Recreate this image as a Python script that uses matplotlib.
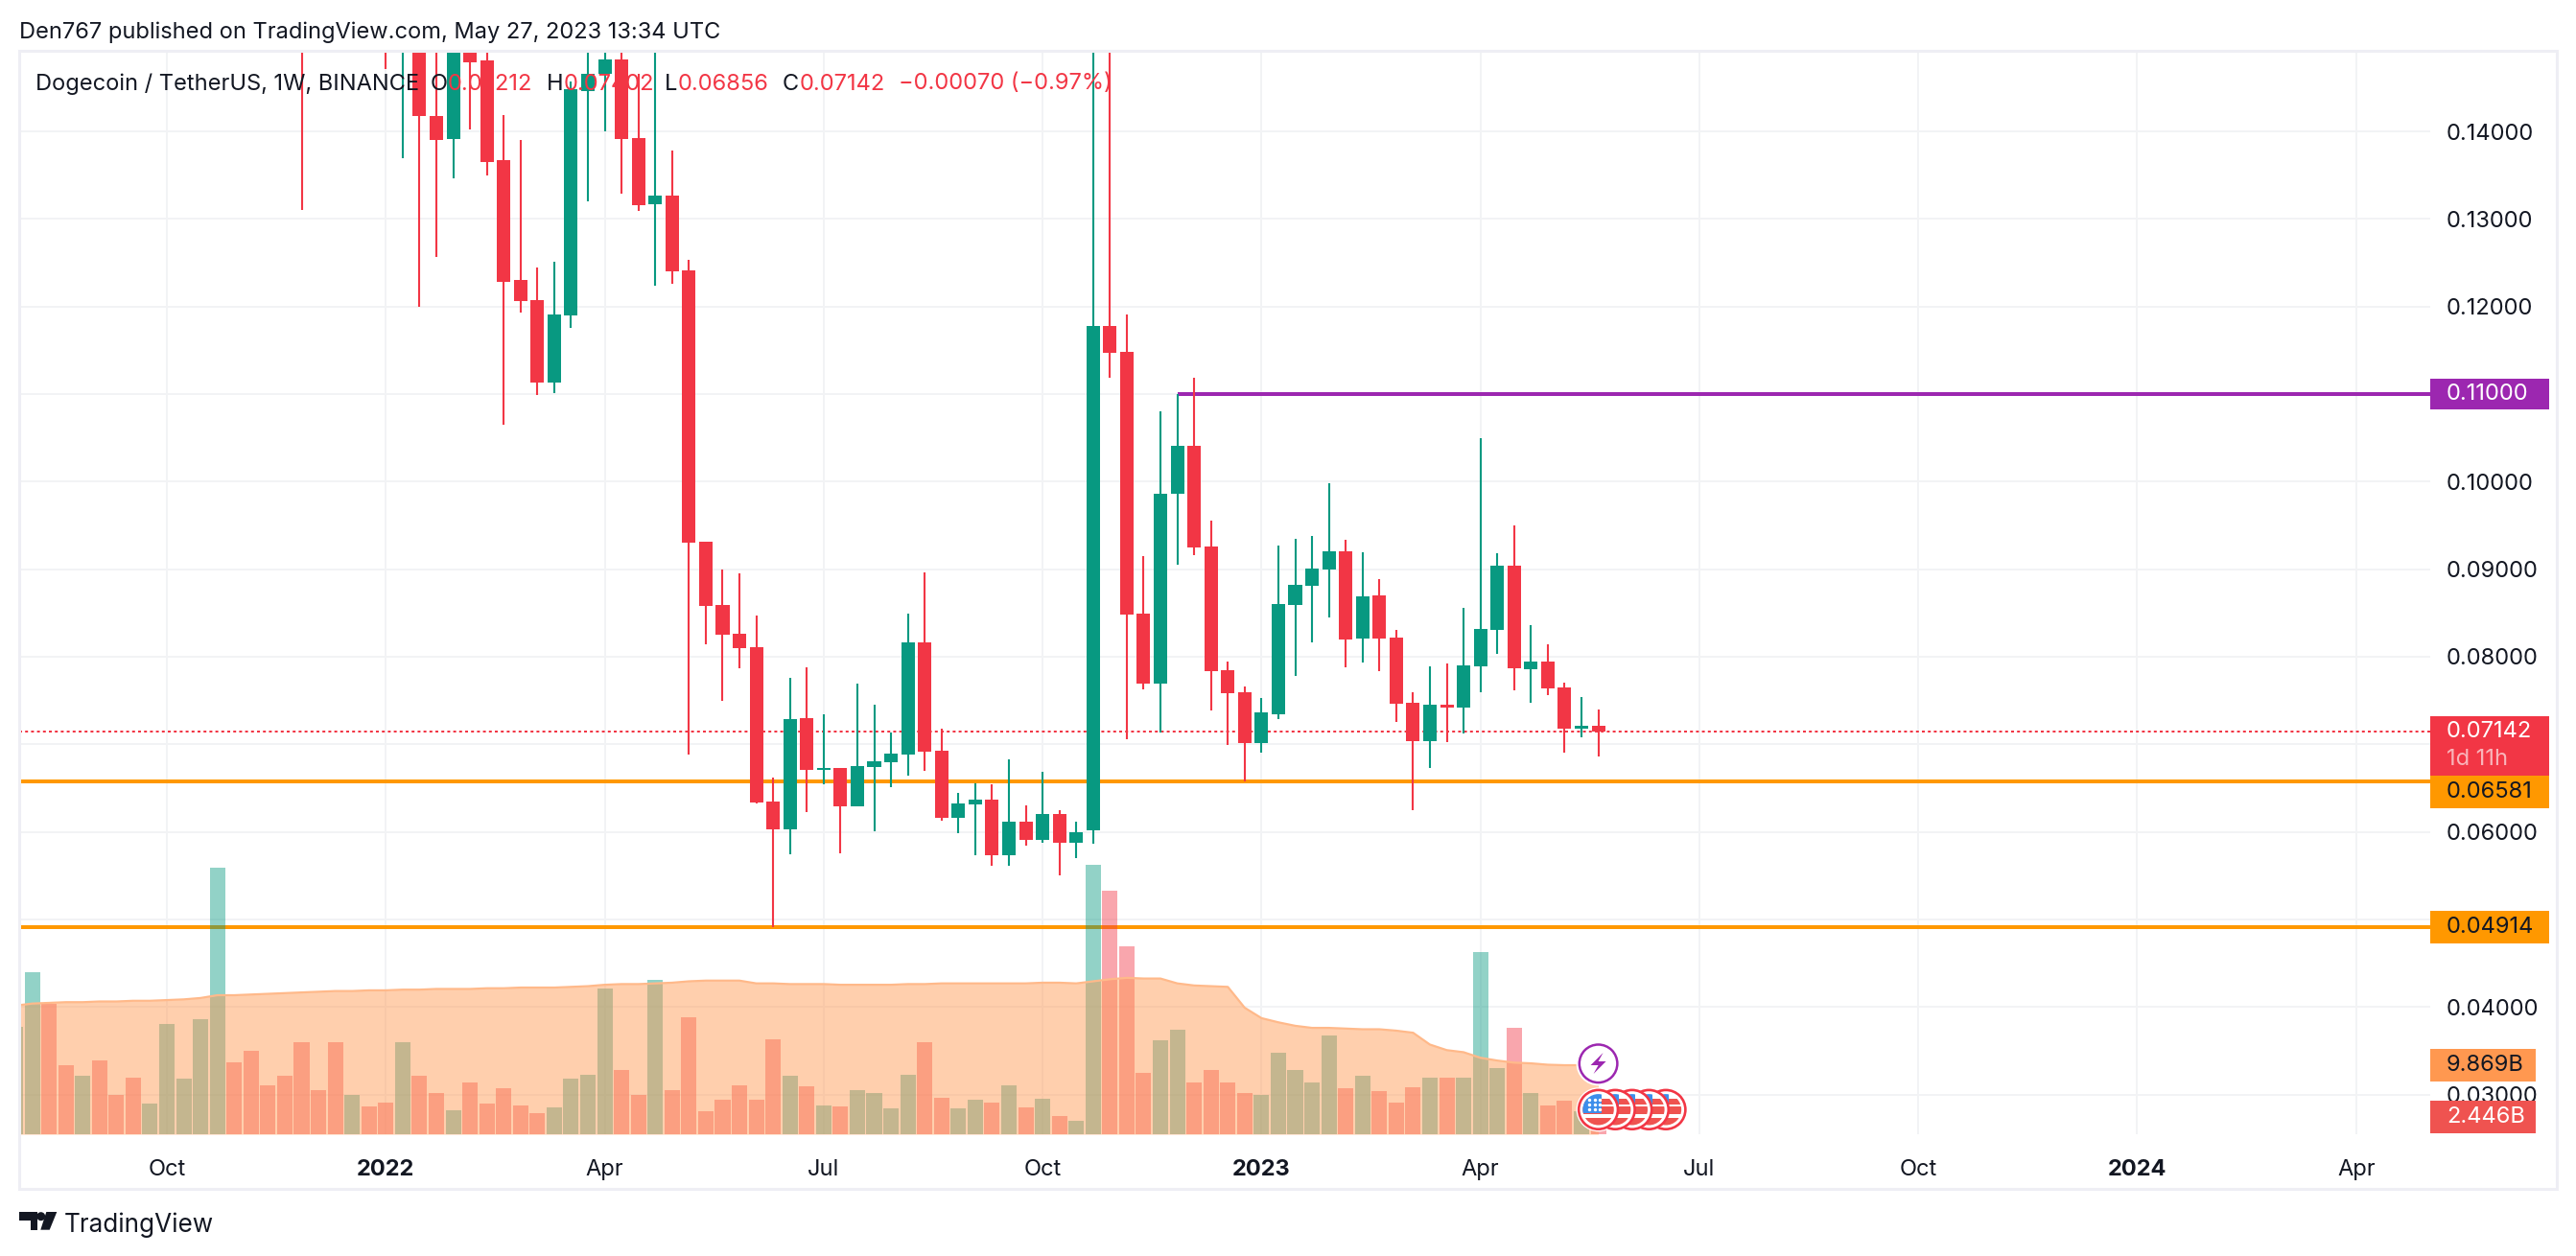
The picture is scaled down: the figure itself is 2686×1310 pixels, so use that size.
import matplotlib
matplotlib.use("Agg")
import matplotlib.pyplot as plt
import matplotlib.dates as mdates
from matplotlib.patches import Rectangle, Circle, Polygon
import numpy as np
import pandas as pd

plt.rcParams['font.family'] = ['Inter', 'DejaVu Sans']

W, H = 2686, 1310
INK = '#131722'; UP = '#089981'; DOWN = '#F23645'; ORANGE = '#FF9800'; PURPLE = '#9C27B0'
GRID = '#f2f3f5'; FRAME = '#eeeef4'

first_week = '2021-08-02'
opens = [.197,.256,.315,.290,.283,.320,.290,.240,.225,.232,
         .245,.250,.261,.290,.265,.245,.216,.206,.175,.172,
         .166,.172,.165,.155,.172,.14175,.13916,.163,.1481,.13672,
         .1230,.12073,.11135,.11901,.1446,.14654,.14821,.13923,.13171,.13266,
         .12412,.09314,.08591,.08262,.08109,.06346,.06032,.07299,.06711,.06729,
         .06295,.06741,.06795,.06886,.08164,.06927,.06164,.06315,.06365,.05737,
         .06114,.05909,.06202,.05879,.06022,.11775,.11482,.0849,.07694,.0986,
         .10409,.09257,.07845,.07593,.07015,.07342,.0859,.08808,.08997,.09202,
         .08209,.08699,.08217,.07472,.07036,.07451,.07417,.07891,.08306,.09039,
         .07857,.07945,.07648,.07178,.07212]
highs = [.27,.35,.33,.31,.33,.335,.30,.25,.24,.25,
         .26,.27,.35,.30,.28,.25,.23,.215,.18,.176,
         .18,.178,.17,.178,.178,.152,.17,.171,.152,.14186,
         .13905,.12445,.12508,.1457,.155,.157,.154,.1466,.152,.13781,
         .12533,.09314,.08996,.08952,.08467,.06617,.07759,.07879,.07343,.06729,
         .07693,.07452,.07131,.08492,.08963,.07178,.06441,.06558,.06541,.06826,
         .06307,.06684,.06248,.06114,.16,.155,.11909,.09148,.10803,.11004,
         .11184,.09554,.07945,.0766,.07526,.09269,.09345,.09378,.09982,.09336,
         .09194,.08888,.08305,.07593,.07891,.07924,.08557,.10497,.09181,.095,
         .0836,.08142,.07702,.07539,.07402]
lows = [.19,.25,.27,.265,.27,.27,.20,.21,.20,.22,
        .23,.24,.24,.25,.23,.20,.19,.1310,.155,.152,
        .16,.155,.1471,.1369,.1200,.12569,.13467,.14022,.1350,.10653,
        .11934,.10992,.11011,.11755,.13201,.1400,.13292,.13091,.1224,.12259,
        .06886,.08142,.0750,.07872,.0632,.04915,.05748,.06229,.06547,.05755,
        .06295,.0601,.06514,.06642,.06697,.06131,.05989,.05737,.0561,.0561,
        .05842,.05879,.0550,.05699,.05863,.11184,.07053,.07627,.07136,.09051,
        .0916,.07388,.0699,.06579,.06906,.07287,.07782,.08163,.08448,.07878,
        .07932,.07836,.07254,.06248,.0673,.07023,.07124,.07593,.08033,.07614,
        .07472,.0756,.06906,.07078,.06856]
closes = [.256,.315,.290,.283,.320,.290,.240,.225,.232,.245,
          .250,.261,.290,.265,.245,.216,.206,.175,.172,.166,
          .172,.165,.155,.172,.14178,.13905,.163,.14788,.13653,.12284,
          .12065,.11135,.11909,.14485,.14654,.14821,.13916,.1316,.13266,.12405,
          .09306,.08583,.08252,.08098,.06339,.06032,.07288,.06711,.06729,.06295,
          .06752,.06806,.06894,.08164,.06916,.06164,.06324,.06365,.05737,.06114,
          .05909,.06202,.05879,.05996,.11775,.11473,.08486,.07694,.0986,.10409,
          .09248,.07836,.07585,.07015,.07363,.08603,.08821,.09005,.09202,.08197,
          .08691,.08209,.07463,.07036,.07451,.07417,.07899,.08318,.09039,.0787,
          .07945,.07639,.07178,.07212,.07142]
volumes_b = [15.4,23.3,18.8,9.9,8.4,10.6,5.6,8.2,4.4,15.8,
             8.0,16.6,38.4,10.4,12.0,7.1,8.4,13.2,6.3,13.2,
             5.7,4.0,4.6,13.2,8.4,5.9,3.4,7.4,4.4,6.6,
             4.1,3.1,3.8,8.0,8.5,20.9,9.3,5.6,22.2,6.4,
             16.8,3.3,4.9,7.1,4.9,13.6,8.4,6.9,4.2,4.0,
             6.4,5.9,3.7,8.5,13.3,5.2,3.7,4.9,4.5,7.0,
             3.8,5.1,2.6,2.0,38.7,35.1,27.1,8.8,13.5,15.0,
             7.5,9.2,7.4,5.9,5.7,11.7,9.2,7.4,14.2,6.6,
             8.4,6.2,4.6,6.7,8.1,8.1,8.2,26.2,9.5,15.3,
             5.9,4.2,4.8,3.3,2.446]
volume_ma_b = [18.5,18.8,18.9,19.0,19.0,19.1,19.1,19.2,19.2,19.3,
               19.4,19.6,20.0,20.0,20.1,20.2,20.3,20.4,20.5,20.6,
               20.6,20.7,20.7,20.8,20.8,20.9,20.9,20.9,21.0,21.0,
               21.1,21.1,21.1,21.2,21.3,21.5,21.6,21.6,21.7,21.8,
               22.0,22.1,22.1,22.1,21.7,21.7,21.6,21.6,21.6,21.5,
               21.5,21.5,21.5,21.6,21.6,21.7,21.7,21.7,21.7,21.7,
               21.7,21.8,21.8,21.7,22.0,22.3,22.5,22.4,22.4,21.7,
               21.4,21.3,21.2,18.2,16.7,16.1,15.6,15.3,15.3,15.2,
               15.1,15.1,14.9,14.6,12.9,12.1,11.8,11.0,10.6,10.3,
               10.2,10.0,9.93,9.93,9.869]

price_ticks = [.03,.04,.05,.06,.07,.08,.09,.10,.11,.12,.13,.14]
time_ticks = ['2021-10-04','2022-01-03','2022-04-04','2022-07-04','2022-10-03','2023-01-02',
              '2023-04-03','2023-07-03','2023-10-02','2024-01-01','2024-04-01']
time_labels = ['Oct','2022','Apr','Jul','Oct','2023','Apr','Jul','Oct','2024','Apr']
level_high = 0.11; level_mid = 0.06581; level_low = 0.04914; last_price = 0.07142

week_dates = pd.date_range(first_week, periods=len(opens), freq='7D')
x = mdates.date2num(week_dates)
O, Hi, Lo, C, V, MA = map(np.array, (opens, highs, lows, closes, volumes_b, volume_ma_b))
rising = C >= O

fig = plt.figure(figsize=(W/100, H/100), dpi=100, facecolor='white')
L_, R_, T_, B_ = 20, 2534, 53, 1183
rect = [L_/W, 1-B_/H, (R_-L_)/W, (B_-T_)/H]
ax = fig.add_axes(rect, zorder=1)
vax = fig.add_axes(rect, zorder=2, sharex=ax)
ui = fig.add_axes([0, 0, 1, 1], zorder=3)
ui.set_xlim(0, W); ui.set_ylim(H, 0); ui.axis('off')

# price pane
ax.set_xlim(x[0]+0.228*7, x[0]+143.4*7)
ax.set_ylim(0.02547, 0.1492)
for s in ax.spines.values(): s.set_visible(False)
ax.yaxis.tick_right()
ax.set_yticks(price_ticks, [f'{t:.5f}' for t in price_ticks], fontsize=17, color=INK)
ax.set_xticks(mdates.date2num(pd.to_datetime(time_ticks)), time_labels, fontsize=17, color=INK)
for lab, txt in zip(ax.get_xticklabels(), time_labels):
    if txt.isdigit(): lab.set_fontweight('bold')
ax.tick_params(axis='x', length=0, pad=18.5)
ax.tick_params(axis='y', length=0, pad=12)
ax.grid(True, color=GRID, lw=1.44, zorder=0)
ax.set_axisbelow(True)

cols = np.where(rising, UP, DOWN)
ax.hlines([level_mid, level_low], ax.get_xlim()[0], ax.get_xlim()[1], color=ORANGE, lw=2.88, zorder=2)
ax.hlines(level_high, x[69], ax.get_xlim()[1], color=PURPLE, lw=2.88, zorder=2)
ax.axhline(last_price, color=DOWN, lw=1.44, ls=(0, (1.5, 1.6)), zorder=2)
ax.vlines(x, Lo, Hi, color=cols, lw=1.5, zorder=3)
ax.bar(x, np.abs(C-O), bottom=np.minimum(O, C), width=5.6, color=cols, zorder=4, linewidth=0)

# volume pane
vax.set_ylim(0, (B_-T_)/7.25)
vax.patch.set_alpha(0); vax.axis('off')
vcols = [(8/255,153/255,129/255,.44) if r else (242/255,54/255,69/255,.44) for r in rising]
vax.bar(x, V, width=6.4, color=vcols, linewidth=0, zorder=2)
vax.fill_between(x, MA, color='#FF9850', alpha=.465, linewidth=0, zorder=3)
vax.plot(x, MA, color='#FFB98A', lw=1.6, zorder=4)

def ypx(v):
    return H - ax.transData.transform((x[0], v))[1]
def xpx(d):
    return ax.transData.transform((d, 0.05))[0]

# outer frame
ui.add_patch(Rectangle((20, 53), 2646, 1187, fill=False, ec=FRAME, lw=2.2))

# price scale tags
def tag(y_top, y_bot, right, color, text, tcolor, tx=2551, ty=None):
    ui.add_patch(Rectangle((R_, y_top), right-R_, y_bot-y_top, fc=color, ec='none', zorder=5))
    ui.text(tx, (y_top+y_bot)/2 if ty is None else ty, text, color=tcolor, fontsize=17, va='center', ha='left', zorder=6)

y = ypx(last_price)
tag(y-16, y+46, 2658, DOWN, f'{last_price:.5f}', 'white', ty=y)
ui.text(2551, y+29, '1d 11h', color='#f9b4ba', fontsize=17, va='center', zorder=6)
tag(y+46, y+80, 2658, ORANGE, f'{level_mid:.5f}', INK)
y = ypx(level_low); tag(y-17, y+17, 2658, ORANGE, f'{level_low:.5f}', INK)
y = ypx(level_high); tag(y-16, y+16, 2658, PURPLE, f'{level_high:.5f}', 'white')
y = H - vax.transData.transform((x[0], MA[-1]))[1]; tag(y-17, y+17, 2644, '#FF9850', '9.869B', INK)
y = H - vax.transData.transform((x[0], V[-1]))[1]; tag(y-17, y+17, 2644, '#EF5350', '2.446B', 'white')

# headline and legend
ui.text(20, 33.5, 'Den767 published on TradingView.com, May 27, 2023 13:34 UTC', color=INK, fontsize=17, va='center')
ui.text(37, 87.5, 'Dogecoin / TetherUS, 1W, BINANCE', color=INK, fontsize=17, va='center', zorder=6)
for px, t, c in [(449,'O',INK),(467,'0.07212',DOWN),(570,'H',INK),(588,'0.07402',DOWN),(693,'L',INK),
                 (707,'0.06856',DOWN),(816,'C',INK),(834,'0.07142',DOWN),(937,'−0.00070 (−0.97%)',DOWN)]:
    ui.text(px, 87.5, t, color=c, fontsize=17, va='center', zorder=6)

# logo
ui.add_patch(Polygon([(20,1264),(39.3,1264),(39.3,1282.7),(31.7,1282.7),(31.7,1273.3),(20,1273.3)], fc=INK, ec='none'))
ui.add_patch(Circle((42.7,1268.7), 4.5, fc=INK, ec='none'))
ui.add_patch(Polygon([(48.3,1264),(59.3,1264),(51.7,1282.7),(42.3,1282.7)], fc=INK, ec='none'))
ui.text(67, 1285, 'TradingView', color=INK, fontsize=18.8, va='baseline')

# event markers
xl = xpx(x[-1])
ui.add_patch(Circle((xl, 1109.3), 23, fc='white', ec='none', zorder=7))
ui.add_patch(Circle((xl, 1109.3), 19.8, fc='white', ec=PURPLE, lw=1.8, zorder=7.1))
ui.add_patch(Polygon([(xl+5,1098),(xl-8,1111),(xl,1111),(xl-5,1120),(xl+8,1107),(xl,1107)], fc=PURPLE, ec='none', zorder=8))
for k in [4, 3, 2, 1, 0]:
    cx = xl + k*17.6; cy = 1157.3
    z = 9 + (4-k)
    ui.add_patch(Circle((cx, cy), 20.4, fc='white', ec=DOWN, lw=1.9, zorder=z))
    clip = Circle((cx, cy), 16.2, transform=ui.transData)
    for sy, sh in [(-11, 6), (-3, 8), (9, 9)]:
        r = Rectangle((cx-18, cy+sy), 36, sh, fc='#EF5350', ec='none', zorder=z+.2)
        ui.add_patch(r); r.set_clip_path(clip)
    b = Rectangle((cx-18, cy-18), 21.5, 21.7, fc='#3D8EEB', ec='none', zorder=z+.3)
    ui.add_patch(b); b.set_clip_path(clip)
    if k == 0:
        sx = [cx-10, cx-4, cx+1.5]*3
        sy = [cy-10]*3 + [cy-5]*3 + [cy]*3
        ui.scatter(sx, sy, s=6, c='white', zorder=z+.4, linewidths=0)
ui.add_patch(Circle((xl, 1157.3), 23, fc='white', ec='none', zorder=8))

fig.savefig('out.png', dpi=100, facecolor='white')
